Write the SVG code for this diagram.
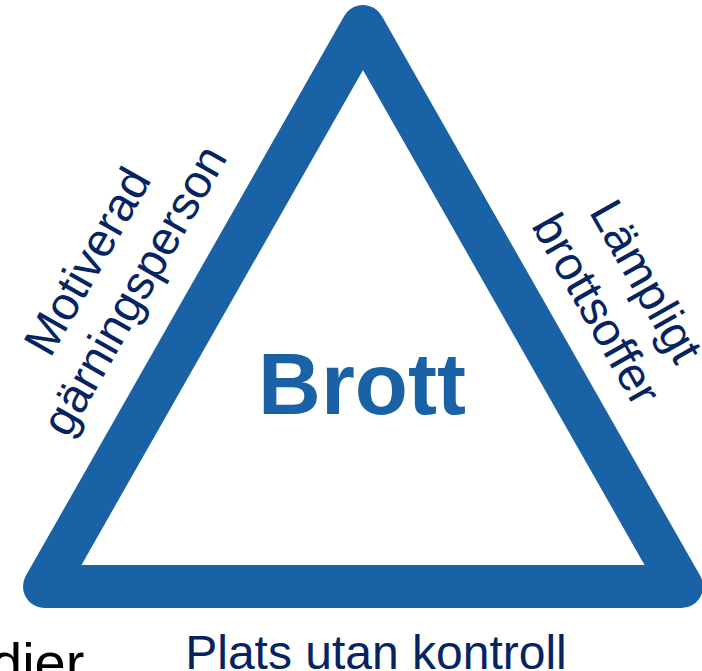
<svg xmlns="http://www.w3.org/2000/svg" width="702" height="671" viewBox="0 0 702 671">
<style>
.lbl{font-family:"Liberation Sans",Arial,sans-serif;font-size:47px;fill:#062462;text-anchor:middle}
.title{font-family:"Liberation Sans",Arial,sans-serif;font-size:87px;font-weight:bold;fill:#1a62a6;text-anchor:middle}
.tri{fill:none;stroke:#1a62a6;stroke-width:43;stroke-linejoin:round}
</style>
<rect width="702" height="671" fill="#ffffff"/>
<g id="connectors">
<path class="tri" d="M363 26.5 L681.5 586.5 L44.5 586.5 Z"/>
</g>
<g id="brott">
<text class="title" x="362" y="414">Brott</text>
</g>
<g id="motiverad" transform="rotate(-60.4)">
<text class="lbl" x="-184" y="221">Motiverad</text>
<text class="lbl" x="-186" y="276">gärningsperson</text>
</g>
<g id="lamplig" transform="rotate(60.4)">
<text class="lbl" x="563.7" y="-407">Lämpligt</text>
<text class="lbl" x="563.7" y="-350">brottsoffer</text>
</g>
<g id="plats">
<text class="lbl" x="376" y="669" style="font-size:48px">Plats utan kontroll</text>
</g>
<g id="cut">
<text x="-9" y="682" style="font-family:'Liberation Sans',Arial,sans-serif;font-size:56px;fill:#000000">dier</text>
</g>
</svg>
